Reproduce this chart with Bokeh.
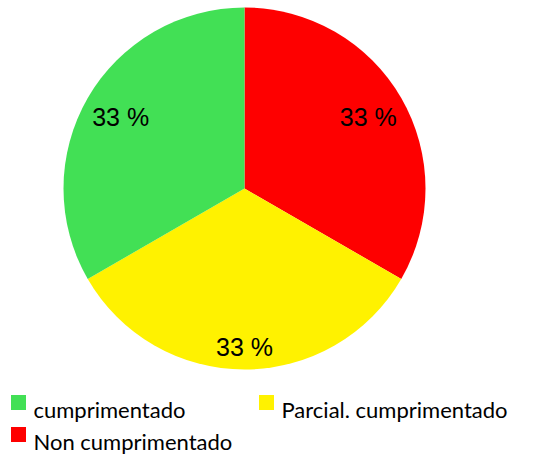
import math
from bokeh.plotting import figure
from bokeh.models import Range1d, ColumnDataSource
from bokeh.core.properties import value
from bokeh.embed import file_html
from bokeh.resources import INLINE

categories = ["cumprimentado", "Parcial. cumprimentado", "Non cumprimentado"]
values = [33.3, 33.3, 33.3]
colors = ["#42E055", "#FFF200", "#FE0000"]

W, H = 522, 456
# data coords: x = pixel from left, y = H - pixel from top
p = figure(width=W, height=H, output_backend="svg", toolbar_location=None,
           x_range=Range1d(0, W), y_range=Range1d(0, H),
           min_border=0, outline_line_color=None)
p.axis.visible = False
p.grid.visible = False
p.background_fill_color = "white"

cx, cy, R = 244, H - 188, 181
total = sum(values)
order = [2, 1, 0]  # clockwise from top: red, yellow, green
label_rf = {2: 0.79, 1: 0.875, 0: 0.79}
start = math.pi / 2
starts, ends, cols, lx, ly, labs = [], [], [], [], [], []
for i in order:
    ang = values[i] / total * 2 * math.pi
    end = start - ang
    starts.append(start)
    ends.append(end)
    cols.append(colors[i])
    mid = (start + end) / 2
    lx.append(cx + label_rf[i] * R * math.cos(mid))
    ly.append(cy + label_rf[i] * R * math.sin(mid))
    labs.append(f"{round(values[i])} %")
    start = end

src = ColumnDataSource(dict(s=starts, e=ends, c=cols))
p.wedge(x=cx, y=cy, radius=R, start_angle="s", end_angle="e", direction="clock",
        fill_color="c", line_color=None, source=src)
p.text(x=lx, y=ly, text=labs, text_align="center", text_baseline="middle",
       text_font=value("Liberation Sans"), text_font_size="25px", text_color="black")

# legend
leg_x = [18, 266, 18]
leg_base = [409, 409, 441]  # text baselines, pixels from top
p.scatter(x=leg_x, y=[H - (b - 7) for b in leg_base], marker="square", size=15,
          fill_color=colors, line_color=None)
p.text(x=[x + 15 for x in leg_x], y=[H - b for b in leg_base], text=categories,
       text_align="left", text_baseline="alphabetic",
       text_font=value("Lato"), text_font_size="22px", text_color="black")

open("out.html", "w").write(file_html(p, INLINE))
